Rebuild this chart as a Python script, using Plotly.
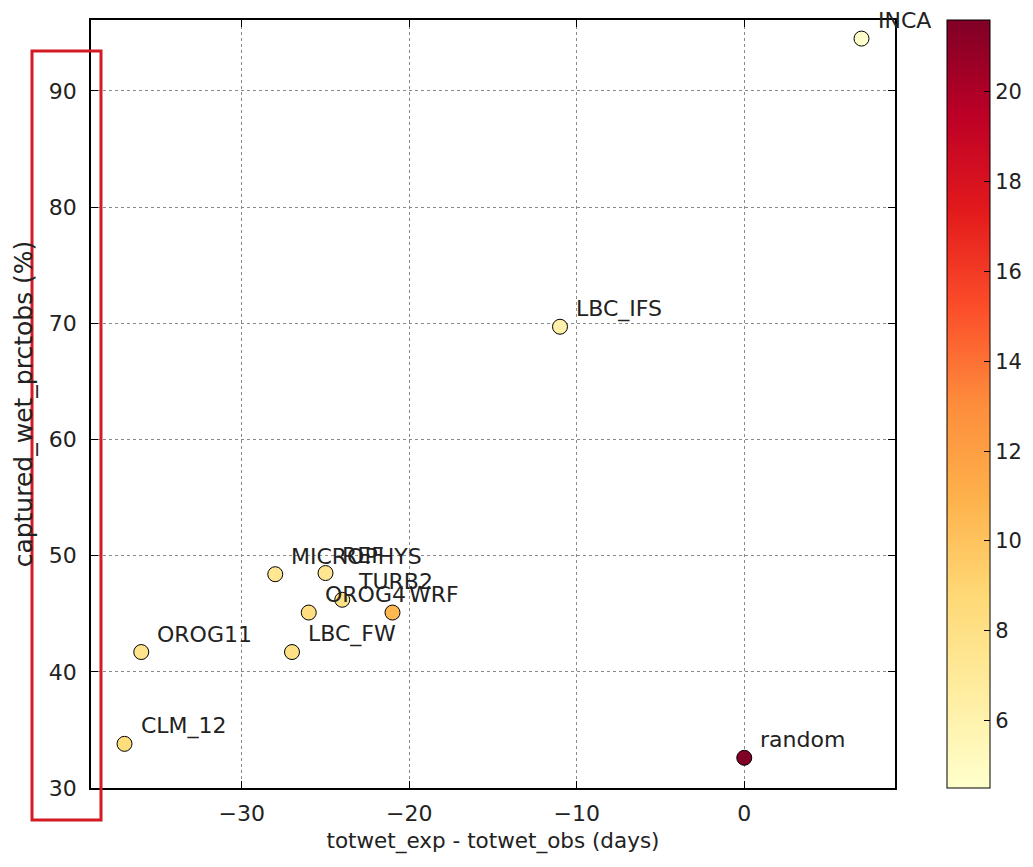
import plotly.graph_objects as go

# Experiment summary: wet-day bias vs. captured wet days
names = ["INCA", "LBC_IFS", "MICROPHYS", "REF", "TURB2", "OROG4", "WRF",
         "LBC_FW", "OROG11", "CLM_12", "random"]
totwet_diff = [7, -11, -28, -25, -24, -26, -21, -27, -36, -37, 0]
captured_wet = [94.5, 69.7, 48.4, 48.5, 46.2, 45.1, 45.1, 41.7, 41.7, 33.8, 32.6]
color_value = [4.5, 6.2, 7.4, 7.4, 8.0, 8.2, 10.6, 8.0, 7.6, 8.4, 21.6]

colorbar_ticks = [6, 8, 10, 12, 14, 16, 18, 20]
x_ticks = [-30, -20, -10, 0]
y_ticks = [30, 40, 50, 60, 70, 80, 90]

ylorrd = ["#ffffcc", "#ffeda0", "#fed976", "#feb24c", "#fd8d3c",
          "#fc4e2a", "#e31a1c", "#bd0026", "#800026"]
colorscale = [[i / (len(ylorrd) - 1), c] for i, c in enumerate(ylorrd)]

FONT = "DejaVu Sans"
TXT = "#222222"

L, R, T, B = 91, 138, 20, 79
W, H = 1033, 867
pw, ph = W - L - R, H - T - B

fig = go.Figure()
fig.add_trace(go.Scatter(
    x=totwet_diff, y=captured_wet, mode="markers",
    marker=dict(size=15, color=color_value, colorscale=colorscale,
                line=dict(color="black", width=1),
                colorbar=dict(
                    thickness=43, thicknessmode="pixels",
                    len=1, lenmode="fraction", y=0.5, yanchor="middle",
                    xref="container", x=947 / W, xanchor="left",
                    xpad=0, ypad=0,
                    outlinecolor="black", outlinewidth=1,
                    tickvals=colorbar_ticks, ticks="inside", ticklen=6,
                    tickcolor="black",
                    tickfont=dict(family=FONT, size=21, color=TXT),
                )),
    showlegend=False, hoverinfo="skip",
))

for n, xv, yv in zip(names, totwet_diff, captured_wet):
    fig.add_annotation(x=xv, y=yv, text=n, showarrow=False,
                       xanchor="left", yanchor="middle", xshift=14, yshift=18,
                       font=dict(family=FONT, size=22, color=TXT))

# highlight box around the y tick labels
fig.add_shape(type="rect", xref="paper", yref="paper",
              x0=(32 - L) / pw, x1=(101 - L) / pw,
              y0=(H - B - 820) / ph, y1=(H - B - 51) / ph,
              line=dict(color="#d41b24", width=3), fillcolor="rgba(0,0,0,0)")

axis_common = dict(
    showline=True, linecolor="black", linewidth=1.5, mirror="ticks",
    ticks="inside", ticklen=7, tickcolor="black",
    showgrid=True, gridcolor="#8a8a8a", griddash="dot", gridwidth=1,
    zeroline=False, tickfont=dict(family=FONT, size=22, color=TXT),
)

fig.update_xaxes(range=[-39, 9], tickvals=x_ticks, ticklabelstandoff=5,
                 title=dict(text="totwet_exp - totwet_obs (days)",
                            font=dict(family=FONT, size=21.5, color=TXT),
                            standoff=8),
                 **axis_common)
fig.update_yaxes(range=[30, 96.1], tickvals=y_ticks, ticklabelstandoff=8,
                 title=dict(text="captured_wet_prctobs (%)",
                            font=dict(family=FONT, size=25, color=TXT),
                            standoff=9),
                 **axis_common)

fig.update_layout(
    width=W, height=H, margin=dict(l=L, r=R, t=T, b=B),
    paper_bgcolor="white", plot_bgcolor="white",
    font=dict(family=FONT, color=TXT),
)

fig.write_html("out.html")
